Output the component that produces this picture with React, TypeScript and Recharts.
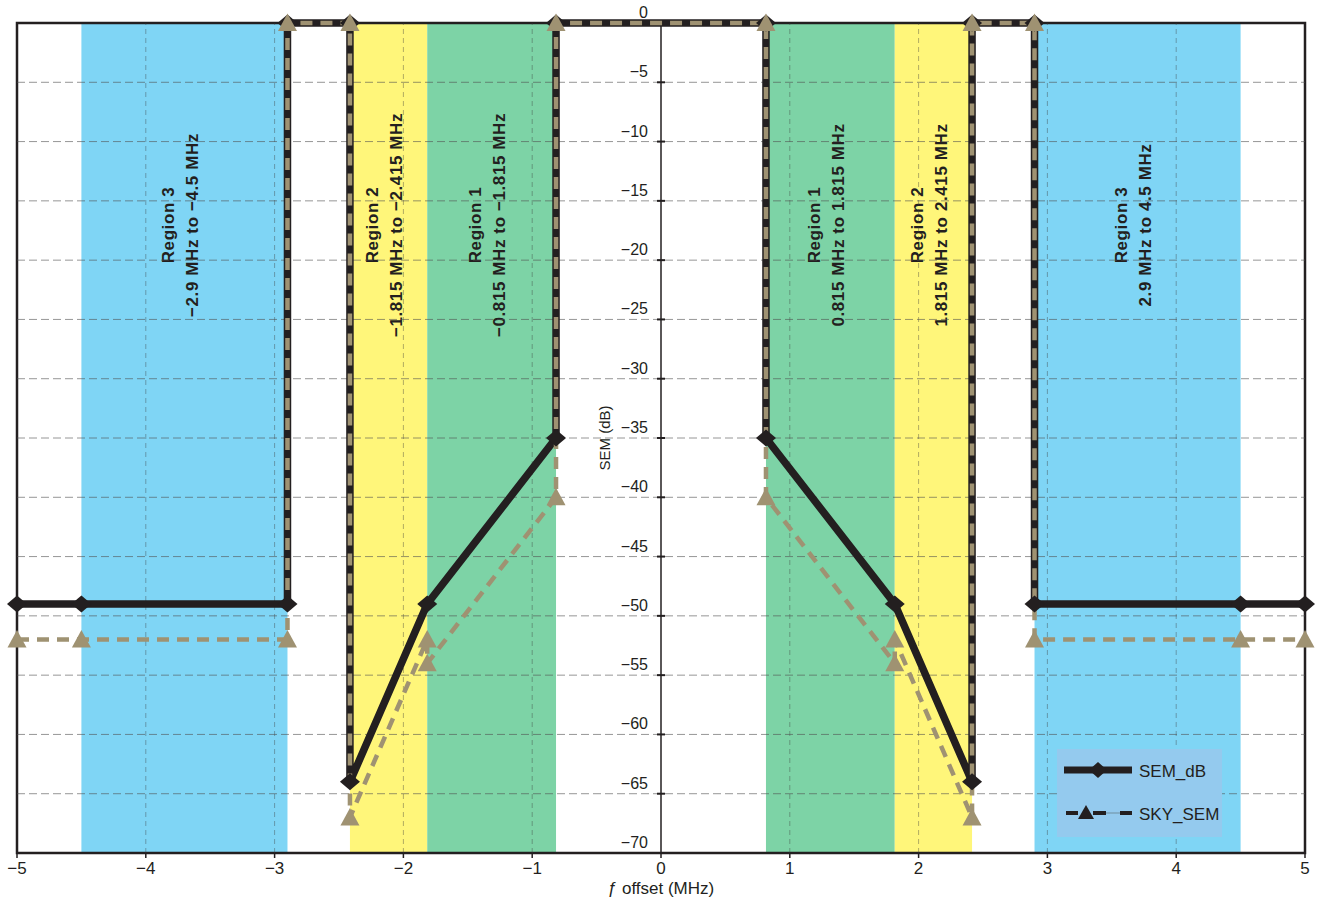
import React from "react";
import {
  LineChart,
  Line,
  XAxis,
  YAxis,
  ReferenceArea,
  ReferenceLine,
} from "recharts";

// frequency offsets (MHz) and SEM limits (dB)
const semX = [-5, -4.5, -2.9, -2.9, -2.415, -2.415, -1.815, -0.815, -0.815, 0.815, 0.815, 1.815, 2.415, 2.415, 2.9, 2.9, 4.5, 5];
const semY = [-49, -49, -49, 0, 0, -64, -49, -35, 0, 0, -35, -49, -64, 0, 0, -49, -49, -49];

const skyX = [-5, -4.5, -2.9, -2.9, -2.415, -2.415, -1.815, -1.815, -0.815, -0.815, 0.815, 0.815, 1.815, 1.815, 2.415, 2.415, 2.9, 2.9, 4.5, 5];
const skyY = [-52, -52, -52, 0, 0, -67, -52, -54, -40, 0, 0, -40, -54, -52, -67, 0, 0, -52, -52, -52];

const xTicks = [-5, -4, -3, -2, -1, 0, 1, 2, 3, 4, 5];
const yTicks = [0, -5, -10, -15, -20, -25, -30, -35, -40, -45, -50, -55, -60, -65, -70];

const regionStart = [-4.5, -2.415, -1.815, 0.815, 1.815, 2.9];
const regionEnd = [-2.9, -1.815, -0.815, 1.815, 2.415, 4.5];
const regionName = ["Region 3", "Region 2", "Region 1", "Region 1", "Region 2", "Region 3"];
const regionRange = [
  "\u22122.9 MHz to \u22124.5 MHz",
  "\u22121.815 MHz to \u22122.415 MHz",
  "\u22120.815 MHz to \u22121.815 MHz",
  "0.815 MHz to 1.815 MHz",
  "1.815 MHz to 2.415 MHz",
  "2.9 MHz to 4.5 MHz",
];

const REGION_COLORS: Record<string, string> = {
  "Region 1": "#7dd3a6",
  "Region 2": "#fff67a",
  "Region 3": "#7fd5f5",
};

const INK = "#231f20";
const KHAKI = "#9f9272";

const semData = semX.map((x, i) => ({ x, y: semY[i] }));
const skyData = skyX.map((x, i) => ({ x, y: skyY[i] }));

const fmt = (v: number) => (v < 0 ? `\u2212${Math.abs(v)}` : `${v}`);

function Diamond(p: any) {
  const { cx, cy, index } = p;
  if (cx == null || cy == null) return <g key={`d${index}`} />;
  return (
    <path
      key={`d${index}`}
      d={`M${cx - 10},${cy} L${cx},${cy - 8.5} L${cx + 10},${cy} L${cx},${cy + 8.5} Z`}
      fill={INK}
    />
  );
}

function Triangle(p: any) {
  const { cx, cy, index } = p;
  if (cx == null || cy == null) return <g key={`t${index}`} />;
  return (
    <path
      key={`t${index}`}
      d={`M${cx},${cy - 9.5} L${cx + 9.5},${cy + 8} L${cx - 9.5},${cy + 8} Z`}
      fill={KHAKI}
    />
  );
}

function regionLabel(name: string, range: string) {
  return (props: any) => {
    const vb = props.viewBox || {};
    const cx = vb.x + vb.width / 2;
    const cy = vb.y + 202;
    const style = { fontSize: 17, fontWeight: 700, letterSpacing: 0.6, fill: INK } as any;
    return (
      <g>
        <text
          x={cx - 16}
          y={cy}
          textAnchor="middle"
          dominantBaseline="central"
          transform={`rotate(-90, ${cx - 16}, ${cy})`}
          style={style}
        >
          {name}
        </text>
        <text
          x={cx + 8}
          y={cy}
          textAnchor="middle"
          dominantBaseline="central"
          transform={`rotate(-90, ${cx + 8}, ${cy})`}
          style={style}
        >
          {range}
        </text>
      </g>
    );
  };
}

function yTickLabel(v: number) {
  return (props: any) => {
    const vb = props.viewBox || {};
    const ax = vb.x + vb.width / 2;
    return (
      <g>
        <line x1={ax - 4} x2={ax + 4} y1={vb.y} y2={vb.y} stroke={INK} strokeWidth={2} />
        <text x={ax - 13} y={vb.y - 5} textAnchor="end" fontSize={16} fill={INK}>
          {fmt(v)}
        </text>
      </g>
    );
  };
}

function LegendBox() {
  return (
    <div style={{ position: "absolute", left: 1057, top: 749, width: 165, height: 88, background: "#94caee" }}>
      <svg width={165} height={88}>
        <line x1={7} x2={75} y1={21} y2={21} stroke={INK} strokeWidth={7} />
        <path d="M32,21 L41,13 L50,21 L41,29 Z" fill={INK} />
        <text x={82} y={28} fontSize={17} fill={INK}>SEM_dB</text>
        <line x1={9} x2={21} y1={64} y2={64} stroke={INK} strokeWidth={4} />
        <path d="M29,56 L37,70 L21,70 Z" fill={INK} />
        <line x1={36} x2={49} y1={64} y2={64} stroke={INK} strokeWidth={4} />
        <line x1={49} x2={63} y1={64} y2={64} stroke="#6f8fa0" strokeWidth={1} />
        <line x1={63} x2={75} y1={64} y2={64} stroke={INK} strokeWidth={4} />
        <text x={82} y={71} fontSize={17} fill={INK}>SKY_SEM</text>
      </svg>
    </div>
  );
}

export default function App() {
  return (
    <div
      style={{
        position: "absolute",
        left: 0,
        top: 0,
        width: 1319,
        height: 906,
        fontFamily: "'Liberation Sans', Arial, sans-serif",
      }}
    >
      <LineChart width={1319} height={906} margin={{ top: 23, right: 14, bottom: 10, left: 17 }}>
        <XAxis
          type="number"
          dataKey="x"
          domain={[-5, 5]}
          ticks={xTicks}
          interval={0}
          tickFormatter={fmt}
          axisLine={false}
          tickLine={{ stroke: INK, strokeWidth: 1.5 }}
          tickSize={5}
          tickMargin={4}
          tick={{ fontSize: 17, fill: INK }}
          height={43}
          label={{ value: "\u0192 offset (MHz)", position: "insideBottom", offset: 2, fontSize: 17, fill: INK }}
        />
        <YAxis type="number" dataKey="y" domain={[-70, 0]} ticks={yTicks} hide />

        {regionStart.map((s, i) => (
          <ReferenceArea
            key={`r${i}`}
            x1={s}
            x2={regionEnd[i]}
            y1={-70}
            y2={0}
            fill={REGION_COLORS[regionName[i]]}
            fillOpacity={1}
            stroke="none"
            label={regionLabel(regionName[i], regionRange[i])}
          />
        ))}

        {xTicks
          .filter((t) => t !== 0 && Math.abs(t) !== 5)
          .map((t) => (
            <ReferenceLine key={`vx${t}`} x={t} stroke="rgba(60,60,60,0.4)" strokeDasharray="5 4" strokeWidth={1} />
          ))}

        {yTicks.map((t) => (
          <ReferenceLine
            key={`hy${t}`}
            y={t}
            stroke={t === 0 || t === -70 ? "none" : "rgba(80,80,80,0.6)"}
            strokeDasharray="8 4"
            strokeWidth={1}
            label={yTickLabel(t)}
          />
        ))}

        <ReferenceLine x={0} stroke={INK} strokeWidth={1.5} />
        <ReferenceArea
          x1={-5}
          x2={5}
          y1={-70}
          y2={0}
          fill="none"
          stroke={INK}
          strokeWidth={2.5}
          label={{
            value: "SEM (dB)",
            position: "center",
            angle: -90,
            dx: -56,
            fontSize: 15,
            fill: INK,
          }}
        />

        <Line
          data={semData}
          dataKey="y"
          name="SEM_dB"
          type="linear"
          stroke={INK}
          strokeWidth={7.5}
          dot={Diamond}
          activeDot={false}
          isAnimationActive={false}
        />
        <Line
          data={skyData}
          dataKey="y"
          name="SKY_SEM"
          type="linear"
          stroke={KHAKI}
          strokeWidth={4.5}
          strokeDasharray="12 8"
          dot={Triangle}
          activeDot={false}
          isAnimationActive={false}
        />
      </LineChart>
      <LegendBox />
    </div>
  );
}
